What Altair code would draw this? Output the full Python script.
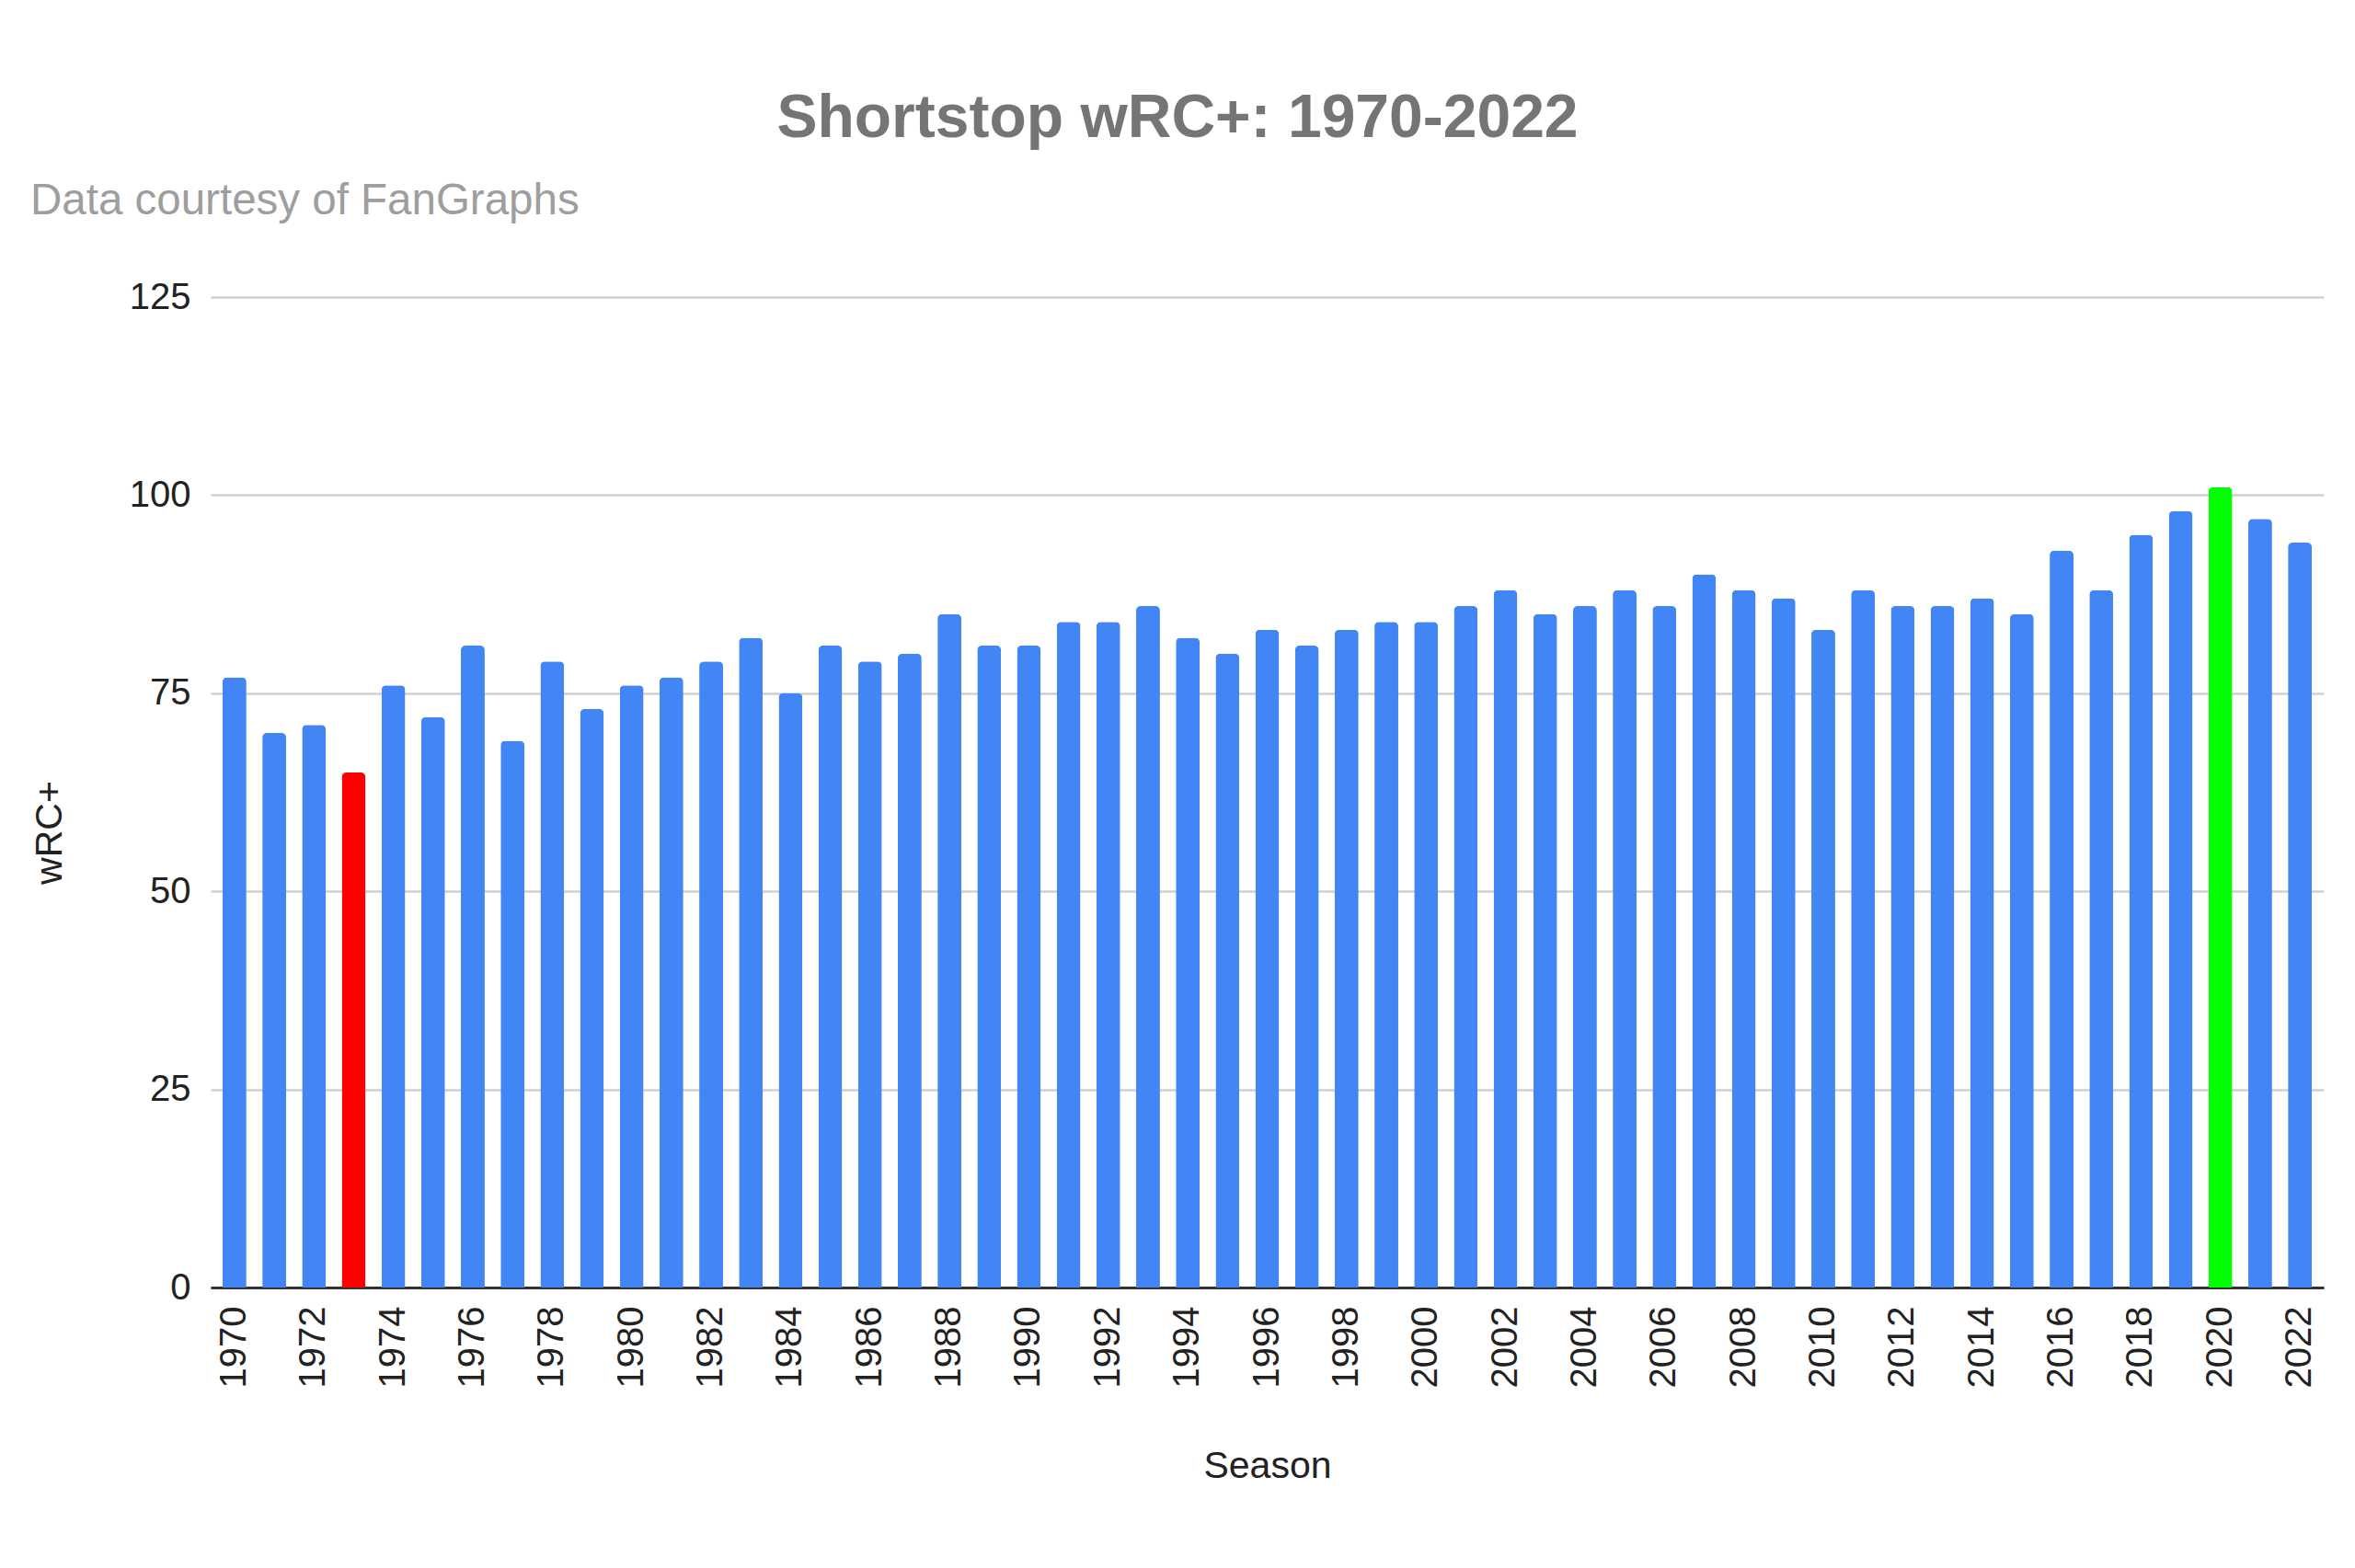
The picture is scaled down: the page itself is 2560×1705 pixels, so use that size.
import altair as alt
import pandas as pd

# ---- data ----
seasons = [1970, 1971, 1972, 1973, 1974, 1975, 1976, 1977, 1978, 1979,
           1980, 1981, 1982, 1983, 1984, 1985, 1986, 1987, 1988, 1989,
           1990, 1991, 1992, 1993, 1994, 1995, 1996, 1997, 1998, 1999,
           2000, 2001, 2002, 2003, 2004, 2005, 2006, 2007, 2008, 2009,
           2010, 2011, 2012, 2013, 2014, 2015, 2016, 2017, 2018, 2019,
           2020, 2021, 2022]
wrc_plus = [77, 70, 71, 65, 76, 72, 81, 69, 79, 73,
            76, 77, 79, 82, 75, 81, 79, 80, 85, 81,
            81, 84, 84, 86, 82, 80, 83, 81, 83, 84,
            84, 86, 88, 85, 86, 88, 86, 90, 88, 87,
            83, 88, 86, 86, 87, 85, 93, 88, 95, 98,
            101, 97, 94]
lowest_season = 1973
highest_season = 2020
group_names = ["Other", "Lowest", "Highest"]
label_years = [1970, 1972, 1974, 1976, 1978, 1980, 1982, 1984, 1986, 1988,
               1990, 1992, 1994, 1996, 1998, 2000, 2002, 2004, 2006, 2008,
               2010, 2012, 2014, 2016, 2018, 2020, 2022]
y_ticks = [0, 25, 50, 75, 100, 125]
title_text = "Shortstop wRC+: 1970-2022"
subtitle_text = "Data courtesy of FanGraphs"

groups = []
for s in seasons:
    if s == lowest_season:
        groups.append(group_names[1])
    elif s == highest_season:
        groups.append(group_names[2])
    else:
        groups.append(group_names[0])

df = pd.DataFrame({"Season": seasons, "wRC+": wrc_plus, "Group": groups})

FONT = "Liberation Sans"

bars = alt.Chart(df).mark_bar(
    cornerRadiusTopLeft=5, cornerRadiusTopRight=5
).encode(
    x=alt.X(
        "Season:O",
        scale=alt.Scale(paddingInner=0.4, paddingOuter=0.3),
        axis=alt.Axis(
            title="Season",
            values=label_years,
            labelAngle=270,
            labelFontSize=40,
            labelColor="#222222",
            labelFont=FONT,
            labelPadding=20,
            ticks=False,
            domain=True,
            domainColor="#333333",
            domainWidth=3,
            grid=False,
            titleFont=FONT,
            titleFontSize=41,
            titleFontWeight="normal",
            titleColor="#222222",
            titlePadding=66,
        ),
    ),
    y=alt.Y(
        "wRC+:Q",
        scale=alt.Scale(domain=[0, 125], nice=False),
        axis=alt.Axis(
            title="wRC+",
            values=y_ticks,
            labelFontSize=40,
            labelColor="#222222",
            labelFont=FONT,
            labelPadding=22,
            ticks=False,
            domain=False,
            grid=True,
            gridColor="#d0d0d0",
            gridWidth=2.5,
            titleFont=FONT,
            titleFontSize=41,
            titleFontWeight="normal",
            titleColor="#222222",
            titleAngle=270,
            titleX=-175,
            titleY=582,
            titleAlign="center",
            titleBaseline="middle",
        ),
    ),
    color=alt.Color(
        "Group:N",
        scale=alt.Scale(domain=group_names, range=["#4285F4", "#FF0000", "#00FF00"]),
        legend=None,
    ),
)

title_df = pd.DataFrame({"t": [title_text]})
subtitle_df = pd.DataFrame({"t": [subtitle_text]})

title_mark = alt.Chart(title_df).mark_text(
    font=FONT, fontSize=66, fontWeight="bold", color="#757575",
    align="center", baseline="alphabetic"
).encode(x=alt.value(1051), y=alt.value(-174), text="t:N")

subtitle_mark = alt.Chart(subtitle_df).mark_text(
    font=FONT, fontSize=47.5, color="#9e9e9e",
    align="left", baseline="alphabetic"
).encode(x=alt.value(-196), y=alt.value(-90), text="t:N")

chart = alt.layer(bars, title_mark, subtitle_mark).properties(
    width=2297,
    height=1077,
    autosize=alt.AutoSizeParams(type="none"),
    padding={"left": 221, "top": 315, "right": 26, "bottom": 297},
    background="white",
).configure_view(stroke=None)

chart.save("out.html", embed_options={"renderer": "svg", "actions": False})
